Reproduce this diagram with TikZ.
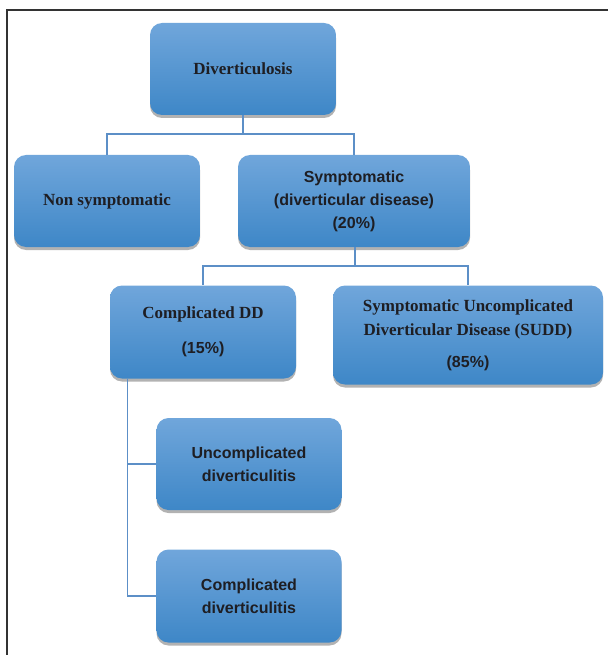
\documentclass[tikz,border=0pt]{standalone}
\usepackage{fontspec}
\setmainfont{Liberation Serif}
\setsansfont{Liberation Sans}
\usetikzlibrary{shadows}
\definecolor{boxtop}{RGB}{112,166,219}
\definecolor{boxbot}{RGB}{62,135,199}
\definecolor{linkblue}{RGB}{92,143,199}
\definecolor{txt}{RGB}{30,30,35}
\begin{document}
\begin{tikzpicture}[x=1pt, y=-1pt,
	box/.style={rounded corners=12pt, top color=boxtop, bottom color=boxbot, draw=none,
		drop shadow={shadow xshift=0pt, shadow yshift=-3pt, fill=black, opacity=0.3},
		text=txt, align=center, inner sep=2pt, font=\fontsize{17}{20}\selectfont\bfseries},
	sbox/.style={box, font=\fontsize{16}{19}\selectfont\sffamily\bfseries},
	link/.style={draw=linkblue, line width=1.2pt}]
	\useasboundingbox (0,0) rectangle (608,655);
	\draw[black!80, line width=1.2pt] (7,655) -- (7,10) -- (608,10);
	
	\node[box, minimum width=186pt, minimum height=92pt] (dvs) at (243,69) {Diverticulosis};
	\node[box, minimum width=186pt, minimum height=92pt] (nonsym) at (107,201) {Non symptomatic};
	\node[sbox, minimum width=232pt, minimum height=92pt] (sym) at (354,201) {Symptomatic\\[4pt](diverticular disease)\\[4pt](20\%)};
	\node[box, minimum width=186pt, minimum height=93pt] (cdd) at (203,332) {Complicated DD\\[15pt]\fontsize{16}{19}\selectfont\sffamily(15\%)};
	\node[box, minimum width=270pt, minimum height=99pt] (sudd) at (468,335) {Symptomatic Uncomplicated\\[4pt]Diverticular Disease (SUDD)\\[12pt]\fontsize{16}{19}\selectfont\sffamily(85\%)};
	\node[sbox, minimum width=185pt, minimum height=92pt] (uncd) at (249,464) {Uncomplicated\\[4pt]diverticulitis};
	\node[sbox, minimum width=185pt, minimum height=93pt] (compd) at (249,596) {Complicated\\[4pt]diverticulitis};
	
	\coordinate (j1) at (243,134);
	\coordinate (j2) at (355,266);
	\coordinate (b0) at ([xshift=18pt]cdd.south west);
	\draw[link] (dvs) -- (j1) -| (nonsym);
	\draw[link] (j1) -| (sym);
	\draw[link] (sym.south -| j2) -- (j2) -| (cdd);
	\draw[link] (j2) -| (sudd);
	\draw[link] (b0) |- (uncd.west);
	\draw[link] (b0) |- (compd.west);
\end{tikzpicture}
\end{document}
